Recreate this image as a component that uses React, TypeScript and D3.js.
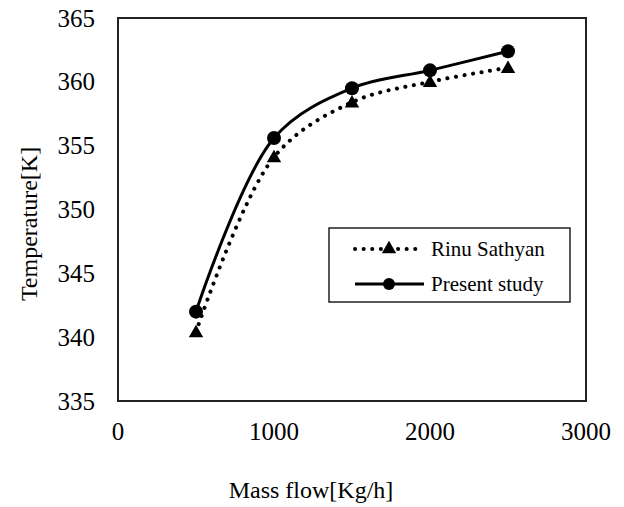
import { useEffect, useRef } from 'react';
import * as d3 from 'd3';

const massFlow = [500, 1000, 1500, 2000, 2500];
const rinuSathyan = [340.4, 354.1, 358.4, 360.0, 361.1];
const presentStudy = [342.0, 355.6, 359.5, 360.9, 362.4];
const xTicks = [0, 1000, 2000, 3000];
const yTicks = [335, 340, 345, 350, 355, 360, 365];

const W = 624;
const H = 507;

export default function App() {
  const svgRef = useRef<SVGSVGElement>(null);

  useEffect(() => {
    if (!svgRef.current) return;
    const svg = d3.select(svgRef.current);
    svg.selectAll('*').remove();

    const left = 118, right = 586, top = 18, bottom = 401;

    const x = d3.scaleLinear().domain([0, 3000]).range([left, right]);
    const y = d3.scaleLinear().domain([335, 365]).range([bottom, top]);

    svg.append('rect').attr('width', W).attr('height', H).attr('fill', '#fff');

    // frame
    svg.append('rect')
      .attr('x', left).attr('y', top)
      .attr('width', right - left).attr('height', bottom - top)
      .attr('fill', 'none').attr('stroke', '#222').attr('stroke-width', 2);

    // tick labels
    svg.append('g').selectAll('text')
      .data(xTicks)
      .join('text')
      .attr('x', (d) => x(d))
      .attr('y', 440)
      .attr('text-anchor', 'middle')
      .style('font-size', '25px')
      .text((d) => d);

    svg.append('g').selectAll('text')
      .data(yTicks)
      .join('text')
      .attr('x', 95)
      .attr('y', (d) => y(d) + 8.5)
      .attr('text-anchor', 'end')
      .style('font-size', '25px')
      .text((d) => d);

    // axis titles
    svg.append('text')
      .attr('x', 311).attr('y', 498)
      .attr('text-anchor', 'middle')
      .style('font-size', '24px')
      .text('Mass flow[Kg/h]');

    svg.append('text')
      .attr('transform', 'translate(37,224) rotate(-90)')
      .attr('text-anchor', 'middle')
      .style('font-size', '24px')
      .text('Temperature[K]');

    const line = d3.line<number>()
      .x((_, i) => x(massFlow[i]))
      .y((d) => y(d))
      .curve(d3.curveCatmullRom.alpha(0.5));

    // Rinu Sathyan (dotted + triangles)
    svg.append('path')
      .attr('d', line(rinuSathyan))
      .attr('fill', 'none').attr('stroke', '#000')
      .attr('stroke-width', 4).attr('stroke-linecap', 'round')
      .attr('stroke-dasharray', '0.1 8.5');

    const tri = d3.symbol().type(d3.symbolTriangle).size(90);
    svg.append('g').selectAll('path')
      .data(rinuSathyan)
      .join('path')
      .attr('d', tri)
      .attr('transform', (d, i) => `translate(${x(massFlow[i])},${y(d) + 1})`)
      .attr('fill', '#000');

    // Present study (solid + circles)
    svg.append('path')
      .attr('d', line(presentStudy))
      .attr('fill', 'none').attr('stroke', '#000')
      .attr('stroke-width', 3);

    svg.append('g').selectAll('circle')
      .data(presentStudy)
      .join('circle')
      .attr('cx', (_, i) => x(massFlow[i]))
      .attr('cy', (d) => y(d))
      .attr('r', 7)
      .attr('fill', '#000');

    // legend
    const lg = svg.append('g');
    lg.append('rect')
      .attr('x', 329).attr('y', 228)
      .attr('width', 241).attr('height', 74)
      .attr('fill', '#fff').attr('stroke', '#222').attr('stroke-width', 1.5);

    lg.append('line')
      .attr('x1', 355).attr('x2', 418).attr('y1', 249).attr('y2', 249)
      .attr('stroke', '#000').attr('stroke-width', 4)
      .attr('stroke-linecap', 'round').attr('stroke-dasharray', '0.1 8.5');
    lg.append('path')
      .attr('d', tri)
      .attr('transform', 'translate(389,249)')
      .attr('fill', '#000');
    lg.append('text')
      .attr('x', 431).attr('y', 256)
      .style('font-size', '21px')
      .text('Rinu Sathyan');

    lg.append('line')
      .attr('x1', 355).attr('x2', 424).attr('y1', 284).attr('y2', 284)
      .attr('stroke', '#000').attr('stroke-width', 3);
    lg.append('circle')
      .attr('cx', 389).attr('cy', 284).attr('r', 6)
      .attr('fill', '#000');
    lg.append('text')
      .attr('x', 431).attr('y', 291)
      .style('font-size', '21px')
      .text('Present study');
  }, []);

  return (
    <svg
      ref={svgRef}
      width={W}
      height={H}
      style={{ position: 'absolute', left: 0, top: 0, fontFamily: "'Liberation Serif', serif" }}
    />
  );
}
